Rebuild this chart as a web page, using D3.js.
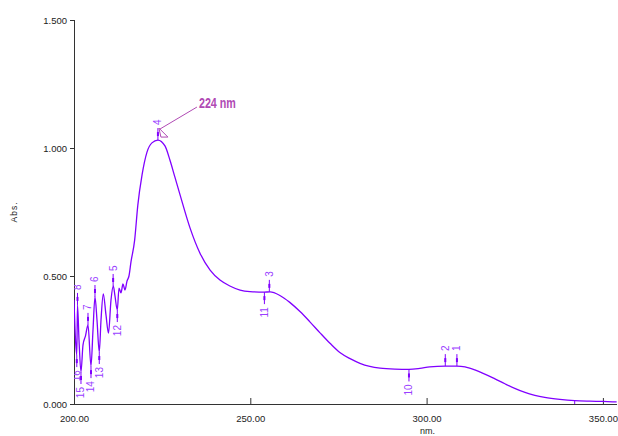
<!DOCTYPE html>
<html>
<head>
<meta charset="utf-8">
<script src="https://cdn.jsdelivr.net/npm/d3@7"></script>
<style>
  body { margin: 0; background: #fff; }
  text { font-family: "Liberation Sans", Arial, sans-serif; }
</style>
</head>
<body>
<div id="spectrum"></div>
<script>
// spectrum (nm, Abs.)
var wavelengths = [200.00,200.43,200.79,200.99,201.42,201.98,202.55,203.26,203.97,204.82,
    205.39,205.95,206.52,207.17,207.66,208.31,209.07,209.78,210.49,211.14,
    211.62,212.28,212.76,213.33,213.89,214.46,215.03,215.59,216.16,217.2,
    218.1,219.3,220.7,222.1,223.8,225.8,227.2,228.6,230.1,232.9,
    235.7,238.6,241.4,244.2,247.1,249.9,253.9,255.6,258.4,261.2,
    264.1,266.9,269.7,272.6,275.4,278.3,281.1,283.9,286.8,291.0,
    295.0,298.1,300.9,305.2,308.6,310.9,313.7,316.5,319.4,322.2,
    325.0,327.9,330.7,333.5,337.8,342.0,346.3,350.0,353.9];
var absorbance = [0.406,0.250,0.191,0.387,0.250,0.125,0.230,0.266,0.309,0.148,
    0.289,0.418,0.328,0.203,0.328,0.430,0.348,0.277,0.406,0.461,
    0.422,0.367,0.453,0.434,0.469,0.445,0.480,0.500,0.555,0.640,
    0.777,0.895,0.984,1.020,1.031,1.008,0.953,0.887,0.816,0.688,
    0.590,0.523,0.484,0.461,0.445,0.439,0.437,0.438,0.424,0.397,
    0.361,0.321,0.279,0.237,0.201,0.177,0.159,0.147,0.140,0.136,
    0.135,0.139,0.145,0.148,0.148,0.145,0.133,0.117,0.098,0.079,
    0.061,0.045,0.034,0.026,0.018,0.013,0.011,0.010,0.008];

// peak / valley pick table
var peakNo = ["1","2","3","4","5","6","7","8"];
var peakNm = [308.6,305.3,255.4,223.8,211.1,205.95,203.97,200.99];
var peakAbs = [0.148,0.148,0.438,1.031,0.461,0.418,0.309,0.387];
var valleyNo = ["9","10","11","12","13","14","15","16"];
var valleyNm = [342.0,295.0,254.0,212.28,207.17,204.82,201.98,200.79];
var valleyAbs = [0.013,0.135,0.437,0.367,0.203,0.148,0.125,0.191];

var xTicks = [200, 250, 300, 350];
var yTicks = [0, 0.5, 1.0, 1.5];
var callout = "224 nm";

var margin = {top: 20, right: 1, bottom: 32, left: 74},
    width = 618 - margin.left - margin.right,
    height = 436 - margin.top - margin.bottom;

var purple = "#8000ff";

var svg = d3.select("#spectrum")
  .append("svg")
    .attr("width", 618)
    .attr("height", 436)
  .append("g")
    .attr("transform", "translate(" + margin.left + "," + margin.top + ")");

var x = d3.scaleLinear().domain([200, 354]).range([0, width]);
var y = d3.scaleLinear().domain([0, 1.5]).range([height, 0]);

svg.append("clipPath").attr("id", "plotclip")
  .append("rect").attr("width", width).attr("height", height);

// x axis, ticks pointing up into the plot
svg.append("g")
    .attr("transform", "translate(0," + height + ")")
    .call(d3.axisBottom(x).tickValues(xTicks).tickSize(-6).tickPadding(11)
        .tickFormat(d3.format(".2f")))
    .call(g => g.select(".domain").attr("d", "M0,0.5H" + width).attr("stroke", "#333"))
    .call(g => g.selectAll(".tick line").attr("stroke", "#333")
        .attr("display", d => d == 200 ? "none" : null))
    .call(g => g.selectAll(".tick text").attr("font-size", 9.5).attr("fill", "#222")
        .attr("font-family", "Liberation Sans, Arial, sans-serif"));

svg.append("text")
    .attr("x", x(300) + 1)
    .attr("y", height + 30)
    .attr("text-anchor", "middle")
    .attr("font-size", 9)
    .attr("fill", "#222")
    .text("nm.");

// y axis
svg.append("g")
    .call(d3.axisLeft(y).tickValues(yTicks).tickSize(4).tickPadding(3)
        .tickFormat(d3.format(".3f")))
    .call(g => g.select(".domain").attr("d", "M0.5,0V" + height).attr("stroke", "#333"))
    .call(g => g.selectAll(".tick line").attr("stroke", "#333"))
    .call(g => g.selectAll(".tick text").attr("font-size", 9.5).attr("fill", "#222")
        .attr("font-family", "Liberation Sans, Arial, sans-serif"));

svg.append("text")
    .attr("transform", "translate(" + (-57) + "," + (y(0.75)) + ") rotate(-90)")
    .attr("text-anchor", "middle")
    .attr("font-size", 8.5)
    .attr("letter-spacing", 1)
    .attr("fill", "#222")
    .text("Abs.");

var plot = svg.append("g").attr("clip-path", "url(#plotclip)");

// the spectrum
var pts = wavelengths.map(function(w, i) { return [w, absorbance[i]]; });
plot.append("path")
    .datum(pts)
    .attr("fill", "none")
    .attr("stroke", purple)
    .attr("stroke-width", 1.3)
    .attr("d", d3.line()
        .curve(d3.curveMonotoneX)
        .x(function(d) { return x(d[0]) })
        .y(function(d) { return y(d[1]) }));

// pick markers: dir -1 = peak (above), +1 = valley (below)
function picks(nos, nms, abs, dir) {
  var g = plot.append("g").selectAll("g")
    .data(nos.map(function(n, i) { return {n: n, nm: nms[i], a: abs[i]}; }))
    .enter().append("g")
      .attr("transform", function(d) { return "translate(" + x(d.nm) + "," + y(d.a) + ")"; });
  g.append("line")
      .attr("x1", 0).attr("x2", 0)
      .attr("y1", 0).attr("y2", dir * 12)
      .attr("stroke", purple).attr("stroke-width", 1);
  g.append("rect")
      .attr("x", -1).attr("width", 2)
      .attr("y", dir < 0 ? -8 : 4).attr("height", 4)
      .attr("fill", purple);
  g.append("text")
      .attr("transform", "translate(3.5," + (dir * 15) + ") rotate(-90)")
      .attr("text-anchor", dir < 0 ? "start" : "end")
      .attr("font-size", 10)
      .attr("fill", "#9a40ff")
      .text(function(d) { return d.n; });
}
picks(peakNo, peakNm, peakAbs, -1);
picks(valleyNo, valleyNm, valleyAbs, 1);

// callout on the main peak
var ax = x(peakNm[3]), ay = y(peakAbs[3]);
var callColor = "#b04ab4";
svg.append("line")
    .attr("x1", ax + 39).attr("y1", ay - 33)
    .attr("x2", ax + 2).attr("y2", ay - 11)
    .attr("stroke", callColor).attr("stroke-width", 1);
svg.append("path")
    .attr("d", "M" + (ax + 1) + "," + (ay - 12) + "L" + (ax + 10) + "," + (ay - 3) +
        "L" + (ax + 3) + "," + (ay - 3) + "Z")
    .attr("fill", "none")
    .attr("stroke", callColor).attr("stroke-width", 1);
svg.append("text")
    .attr("x", ax + 41)
    .attr("y", ay - 32)
    .attr("font-weight", "bold")
    .attr("font-size", 14)
    .attr("textLength", 37)
    .attr("lengthAdjust", "spacingAndGlyphs")
    .attr("fill", callColor)
    .text(callout);
</script>
</body>
</html>
